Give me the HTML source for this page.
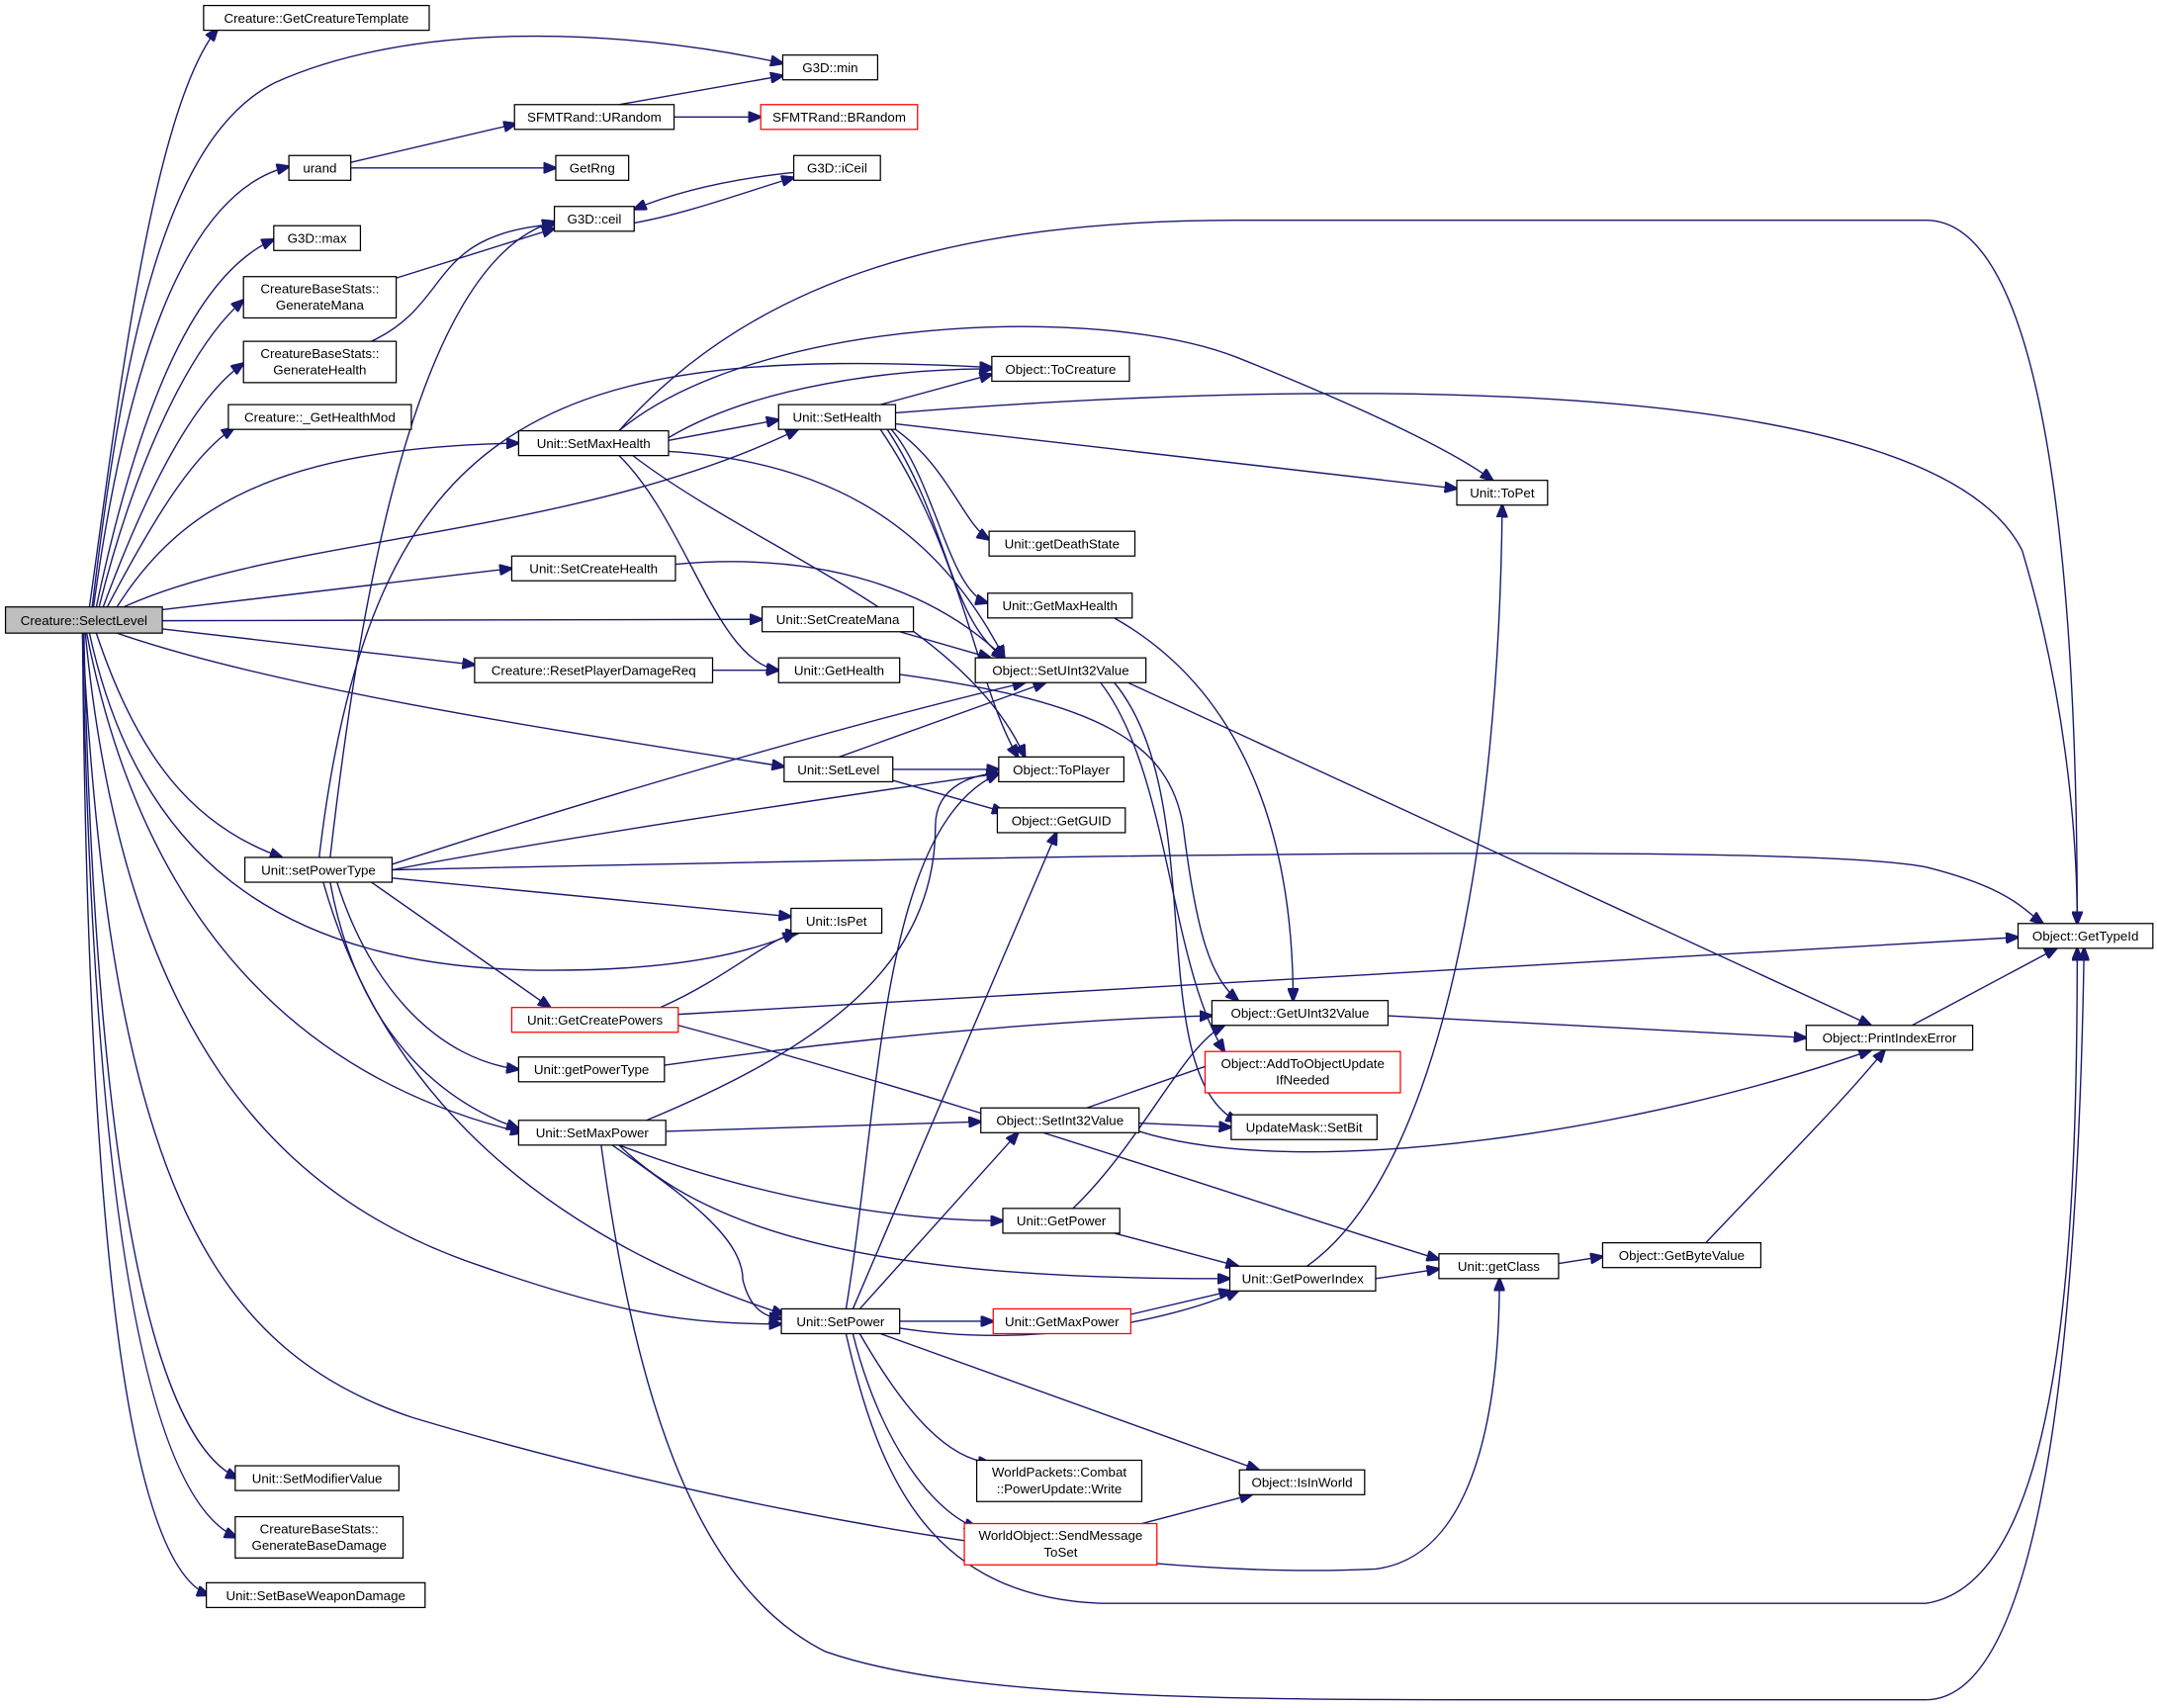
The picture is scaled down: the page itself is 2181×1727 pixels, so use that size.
<!DOCTYPE html>
<html><head><meta charset="utf-8"><style>
html,body{margin:0;padding:0;background:#fff}
svg{display:block}
text{font-family:"Liberation Sans","DejaVu Sans",sans-serif;font-size:9.6px;fill:#000;text-anchor:middle}
.e{fill:none;stroke:#191970;stroke-width:1}
.n{fill:#fff;stroke:#000;stroke-width:0.9}
.r{fill:#fff;stroke:#ff0000;stroke-width:0.9}
</style></head><body>
<svg width="2181" height="1727" viewBox="0 0 1568 1241" preserveAspectRatio="none" xmlns="http://www.w3.org/2000/svg">
<defs><marker id="a" markerWidth="10" markerHeight="8" refX="9" refY="4" orient="auto" markerUnits="userSpaceOnUse"><path d="M0,0 L10,4 L0,8 z" fill="#191970" stroke="#191970"/></marker></defs>
<g class="e" marker-end="url(#a)">
<path d="M65,441 C85,300 110,80 158,21"/>
<path d="M67,441 C90,250 120,100 200,60 C300,15 450,20 569,46"/>
<path d="M68,441 C90,280 130,140 210,121"/>
<path d="M70,441 C100,300 140,200 199,174"/>
<path d="M72,441 C100,330 140,250 177,218"/>
<path d="M75,441 C105,360 140,290 177,264"/>
<path d="M78,441 C110,380 140,330 170,311"/>
<path d="M85,441 C130,370 200,325 377,322"/>
<path d="M90,441 C200,390 420,390 580,312"/>
<path d="M118,443 L372,413"/>
<path d="M118,451 L554,450"/>
<path d="M118,457 L345,483"/>
<path d="M85,460 C200,500 400,530 570,557"/>
<path d="M70,460 C100,550 140,600 205,623"/>
<path d="M65,460 C100,620 200,705 400,705 C500,705 550,690 578,678"/>
<path d="M63,460 C100,650 200,780 380,823"/>
<path d="M62,460 C90,750 200,870 350,920 C450,955 500,962 568,962"/>
<path d="M60,460 C80,850 150,980 300,1030 C500,1090 800,1150 1000,1140 C1080,1130 1090,1000 1090,929"/>
<path d="M61,460 C70,900 120,1050 173,1074"/>
<path d="M60,460 C68,900 110,1090 172,1117"/>
<path d="M60,460 C64,950 100,1140 152,1159"/>
<path d="M450,76 L569,55"/>
<path d="M490,85 L553,85"/>
<path d="M255,118 L375,90"/>
<path d="M255,122 L404,122"/>
<path d="M580,125 C530,130 490,140 461,152"/>
<path d="M461,162 C500,155 540,140 577,129"/>
<path d="M285,203 L403,166"/>
<path d="M270,248 C330,220 310,170 403,163"/>
<path d="M240,623 C260,450 300,190 403,161"/>
<path d="M232,623 C270,300 400,250 721,267"/>
<path d="M285,628 C400,590 600,530 745,496"/>
<path d="M285,632 C400,610 600,580 726,562"/>
<path d="M285,632 C600,625 1300,610 1400,630 C1460,645 1470,660 1485,671"/>
<path d="M285,638 L575,666"/>
<path d="M270,641 L400,732"/>
<path d="M245,641 C270,720 320,770 377,777"/>
<path d="M240,641 C260,750 320,800 377,820"/>
<path d="M235,641 C280,800 400,900 570,955"/>
<path d="M486,318 C550,280 650,268 721,268"/>
<path d="M450,313 C550,200 700,160 900,160 L1400,160 C1500,160 1510,500 1510,671"/>
<path d="M486,320 L566,305"/>
<path d="M450,313 C550,230 800,220 900,260 C1000,300 1060,330 1085,349"/>
<path d="M486,328 C600,335 680,380 730,478"/>
<path d="M450,331 C500,380 520,480 566,487"/>
<path d="M460,331 C550,400 700,450 745,550"/>
<path d="M640,294 L721,272"/>
<path d="M651,300 C900,280 1400,260 1470,400 C1500,500 1510,600 1510,671"/>
<path d="M651,308 L1059,355"/>
<path d="M651,312 C690,340 700,380 719,392"/>
<path d="M648,312 C680,350 690,430 718,438"/>
<path d="M645,312 C690,380 690,450 730,478"/>
<path d="M640,312 C700,400 710,500 740,550"/>
<path d="M810,449 C900,500 940,600 940,727"/>
<path d="M491,410 C600,400 680,430 730,478"/>
<path d="M654,459 L720,478"/>
<path d="M518,487 L566,487"/>
<path d="M654,490 C800,510 850,540 860,600 C870,680 880,710 900,727"/>
<path d="M610,550 L760,496"/>
<path d="M649,559 L726,559"/>
<path d="M649,567 L730,590"/>
<path d="M820,496 L1360,745"/>
<path d="M800,496 C850,560 850,700 890,764"/>
<path d="M810,496 C880,580 830,780 900,815"/>
<path d="M1390,745 L1495,689"/>
<path d="M1009,738 L1313,754"/>
<path d="M493,737 L1467,681"/>
<path d="M480,732 C530,710 560,680 580,678"/>
<path d="M493,745 C700,800 900,870 1046,915"/>
<path d="M483,774 C650,750 800,740 881,738"/>
<path d="M470,814 C600,760 680,700 680,600 C680,570 710,562 726,562"/>
<path d="M484,822 L713,815"/>
<path d="M450,832 C550,870 650,887 729,887"/>
<path d="M450,832 C520,900 650,930 894,929"/>
<path d="M445,832 C500,870 540,900 540,930 C545,950 555,957 568,958"/>
<path d="M437,832 C460,1000 500,1150 600,1200 C700,1235 900,1235 1100,1235 L1400,1235 C1480,1235 1510,1000 1515,689"/>
<path d="M790,805 L890,770"/>
<path d="M828,816 L895,819"/>
<path d="M828,822 C950,860 1200,820 1360,763"/>
<path d="M780,878 C830,830 860,760 890,745"/>
<path d="M810,896 L900,920"/>
<path d="M950,920 C1050,850 1090,600 1092,367"/>
<path d="M1000,929 L1046,922"/>
<path d="M1133,918 L1165,913"/>
<path d="M1240,903 C1290,850 1340,800 1370,763"/>
<path d="M615,951 C640,800 640,600 726,562"/>
<path d="M620,951 L768,605"/>
<path d="M625,951 L740,823"/>
<path d="M654,960 L722,960"/>
<path d="M654,965 C750,980 850,960 900,938"/>
<path d="M640,969 L915,1068"/>
<path d="M625,969 C660,1030 690,1060 720,1063"/>
<path d="M620,969 C640,1050 680,1100 710,1110"/>
<path d="M615,969 C640,1080 680,1160 800,1165 L1400,1165 C1500,1150 1510,900 1510,689"/>
<path d="M822,955 L895,938"/>
<path d="M830,1107 L910,1086"/>
</g>
<g>
<rect x="4" y="441" width="114" height="19" fill="#bfbfbf" stroke="#000" stroke-width="0.9"/><text x="61" y="454">Creature::SelectLevel</text>
<rect class="n" x="148" y="4" width="164" height="18"/><text x="230" y="16.5">Creature::GetCreatureTemplate</text>
<rect class="n" x="569" y="40" width="69" height="18"/><text x="603.5" y="52.5">G3D::min</text>
<rect class="n" x="374" y="76" width="116" height="18"/><text x="432" y="88.5">SFMTRand::URandom</text>
<rect class="r" x="553" y="76" width="114" height="18"/><text x="610" y="88.5">SFMTRand::BRandom</text>
<rect class="n" x="210" y="113" width="45" height="18"/><text x="232.5" y="125.5">urand</text>
<rect class="n" x="404" y="113" width="53" height="18"/><text x="430.5" y="125.5">GetRng</text>
<rect class="n" x="577" y="113" width="63" height="18"/><text x="608.5" y="125.5">G3D::iCeil</text>
<rect class="n" x="403" y="150" width="58" height="18"/><text x="432" y="162.5">G3D::ceil</text>
<rect class="n" x="199" y="164" width="63" height="18"/><text x="230.5" y="176.5">G3D::max</text>
<rect class="n" x="177" y="201" width="111" height="30"/><text x="232.5" y="213">CreatureBaseStats::</text><text x="232.5" y="225">GenerateMana</text>
<rect class="n" x="177" y="248" width="111" height="30"/><text x="232.5" y="260">CreatureBaseStats::</text><text x="232.5" y="272">GenerateHealth</text>
<rect class="n" x="166" y="294" width="133" height="18"/><text x="232.5" y="306.5">Creature::_GetHealthMod</text>
<rect class="n" x="377" y="313" width="109" height="18"/><text x="431.5" y="325.5">Unit::SetMaxHealth</text>
<rect class="n" x="721" y="259" width="100" height="18"/><text x="771" y="271.5">Object::ToCreature</text>
<rect class="n" x="566" y="294" width="85" height="18"/><text x="608.5" y="306.5">Unit::SetHealth</text>
<rect class="n" x="1059" y="349" width="66" height="18"/><text x="1092" y="361.5">Unit::ToPet</text>
<rect class="n" x="719" y="386" width="106" height="18"/><text x="772" y="398.5">Unit::getDeathState</text>
<rect class="n" x="718" y="431" width="105" height="18"/><text x="770.5" y="443.5">Unit::GetMaxHealth</text>
<rect class="n" x="372" y="404" width="119" height="18"/><text x="431.5" y="416.5">Unit::SetCreateHealth</text>
<rect class="n" x="554" y="441" width="110" height="18"/><text x="609" y="453.5">Unit::SetCreateMana</text>
<rect class="n" x="345" y="478" width="173" height="18"/><text x="431.5" y="490.5">Creature::ResetPlayerDamageReq</text>
<rect class="n" x="566" y="478" width="88" height="18"/><text x="610" y="490.5">Unit::GetHealth</text>
<rect class="n" x="709" y="478" width="124" height="18"/><text x="771" y="490.5">Object::SetUInt32Value</text>
<rect class="n" x="570" y="550" width="79" height="18"/><text x="609.5" y="562.5">Unit::SetLevel</text>
<rect class="n" x="726" y="550" width="91" height="18"/><text x="771.5" y="562.5">Object::ToPlayer</text>
<rect class="n" x="725" y="587" width="93" height="18"/><text x="771.5" y="599.5">Object::GetGUID</text>
<rect class="n" x="178" y="623" width="107" height="18"/><text x="231.5" y="635.5">Unit::setPowerType</text>
<rect class="n" x="575" y="660" width="66" height="18"/><text x="608" y="672.5">Unit::IsPet</text>
<rect class="n" x="1467" y="671" width="98" height="18"/><text x="1516" y="683.5">Object::GetTypeId</text>
<rect class="r" x="372" y="732" width="121" height="18"/><text x="432.5" y="744.5">Unit::GetCreatePowers</text>
<rect class="n" x="881" y="727" width="128" height="18"/><text x="945" y="739.5">Object::GetUInt32Value</text>
<rect class="n" x="1313" y="745" width="121" height="18"/><text x="1373.5" y="757.5">Object::PrintIndexError</text>
<rect class="r" x="876" y="764" width="142" height="30"/><text x="947" y="776">Object::AddToObjectUpdate</text><text x="947" y="788">IfNeeded</text>
<rect class="n" x="377" y="768" width="106" height="18"/><text x="430" y="780.5">Unit::getPowerType</text>
<rect class="n" x="377" y="814" width="107" height="18"/><text x="430.5" y="826.5">Unit::SetMaxPower</text>
<rect class="n" x="713" y="805" width="115" height="18"/><text x="770.5" y="817.5">Object::SetInt32Value</text>
<rect class="n" x="895" y="810" width="106" height="18"/><text x="948" y="822.5">UpdateMask::SetBit</text>
<rect class="n" x="729" y="878" width="85" height="18"/><text x="771.5" y="890.5">Unit::GetPower</text>
<rect class="n" x="894" y="920" width="106" height="18"/><text x="947" y="932.5">Unit::GetPowerIndex</text>
<rect class="n" x="1046" y="911" width="87" height="18"/><text x="1089.5" y="923.5">Unit::getClass</text>
<rect class="n" x="1165" y="903" width="115" height="18"/><text x="1222.5" y="915.5">Object::GetByteValue</text>
<rect class="n" x="568" y="951" width="86" height="18"/><text x="611" y="963.5">Unit::SetPower</text>
<rect class="r" x="722" y="951" width="100" height="18"/><text x="772" y="963.5">Unit::GetMaxPower</text>
<rect class="n" x="710" y="1061" width="120" height="30"/><text x="770" y="1073">WorldPackets::Combat</text><text x="770" y="1085">::PowerUpdate::Write</text>
<rect class="n" x="901" y="1068" width="91" height="18"/><text x="946.5" y="1080.5">Object::IsInWorld</text>
<rect class="r" x="701" y="1107" width="140" height="30"/><text x="771" y="1119">WorldObject::SendMessage</text><text x="771" y="1131">ToSet</text>
<rect class="n" x="171" y="1065" width="119" height="18"/><text x="230.5" y="1077.5">Unit::SetModifierValue</text>
<rect class="n" x="171" y="1102" width="122" height="30"/><text x="232" y="1114">CreatureBaseStats::</text><text x="232" y="1126">GenerateBaseDamage</text>
<rect class="n" x="150" y="1150" width="159" height="18"/><text x="229.5" y="1162.5">Unit::SetBaseWeaponDamage</text>
</g>
</svg>
</body></html>
